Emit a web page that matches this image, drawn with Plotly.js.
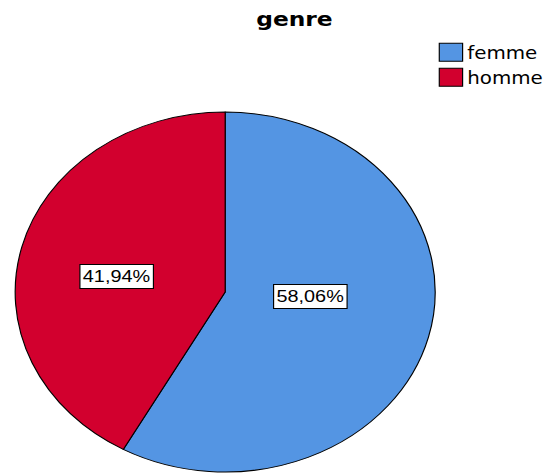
<!DOCTYPE html>
<html>
<head>
<meta charset="utf-8">
<script src="https://cdn.plot.ly/plotly-3.0.1.min.js"></script>
<style>
  html, body { margin: 0; padding: 0; background: #ffffff; overflow: hidden; }
  #wrap { width: 546px; height: 474px; overflow: hidden; }
  #chart { width: 490px; height: 474px; transform: scaleX(1.16667); transform-origin: 0 0; }
</style>
</head>
<body>
<div id="wrap"><div id="chart"></div></div>
<script>
// Data
const categories = ["femme", "homme"];
const counts = [18, 13];
const sliceColors = ["#5495E3", "#D2002E"];
const chartTitle = "genre";

// Percent labels (computed from counts, French decimal comma)
const total = counts.reduce((a, b) => a + b, 0);
const pctLabels = counts.map(v => (100 * v / total).toFixed(2).replace(".", ",") + "%");

// Label box positions (paper coords)
const labelPos = [[0.689, 0.4875], [0.259, 0.5417]];

const trace = {
  type: "pie",
  labels: categories,
  values: counts,
  sort: false,
  direction: "clockwise",
  rotation: 0,
  textinfo: "none",
  hoverinfo: "none",
  marker: { colors: sliceColors, line: { color: "#000000", width: 1 } },
  domain: { x: [0, 1], y: [0, 1] },
  showlegend: true
};

const annotations = pctLabels.map((t, i) => ({
  text: t,
  xref: "paper", yref: "paper",
  x: labelPos[i][0], y: labelPos[i][1],
  xanchor: "center", yanchor: "middle",
  showarrow: false,
  bgcolor: "#ffffff",
  bordercolor: "#000000",
  borderwidth: 1,
  borderpad: 2,
  font: { family: "Liberation Sans, Arial, sans-serif", size: 17, color: "#000000" }
}));

const layout = {
  width: 490,
  height: 474,
  margin: { l: 0, r: 104.3, t: 112, b: 2, pad: 0 },
  paper_bgcolor: "#ffffff",
  plot_bgcolor: "#ffffff",
  title: {
    text: chartTitle,
    x: 252.4 / 490, xref: "container", xanchor: "center",
    y: 0.96, yref: "container", yanchor: "middle",
    font: { family: "DejaVu Sans, sans-serif", size: 20, weight: 700, color: "#000000" }
  },
  showlegend: true,
  legend: {
    x: 0.934, xanchor: "left",
    y: 1.215, yanchor: "top",
    font: { family: "DejaVu Sans, sans-serif", size: 17, color: "#000000" },
    bgcolor: "rgba(0,0,0,0)",
    borderwidth: 0,
    traceorder: "normal"
  },
  annotations: annotations
};

Plotly.newPlot("chart", [trace], layout, { displayModeBar: false, staticPlot: true }).then(() => {
  document.querySelectorAll("path.legendpie").forEach(p => {
    p.setAttribute("d", "M10,9H-10V-9H10Z");
    p.setAttribute("transform", "translate(26,0)");
  });
});
</script>
</body>
</html>
